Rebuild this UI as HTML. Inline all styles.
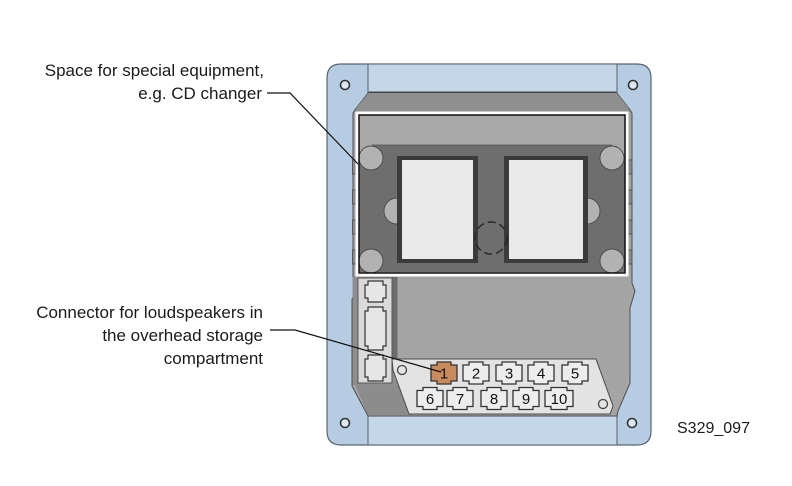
<!DOCTYPE html>
<html>
<head>
<meta charset="utf-8">
<style>
  html,body{margin:0;padding:0;background:#fff;}
  svg{display:block;}
  text{font-family:"Liberation Sans",Arial,sans-serif;}
</style>
</head>
<body>
<svg width="792" height="486" viewBox="0 0 792 486" xmlns="http://www.w3.org/2000/svg">
  <rect width="792" height="486" fill="#ffffff"/>

  <!-- Blue mounting frame -->
  <path d="M341,64 H637 Q651,64 651,78 V431 Q651,445 637,445 H341 Q327,445 327,431 V78 Q327,64 341,64 Z" fill="#b6cce2" stroke="#5a646e" stroke-width="1.2"/>
  <rect x="368" y="64.6" width="249" height="28" fill="#c4d7e9"/>
  <rect x="368" y="415" width="249" height="29.4" fill="#c4d7e9"/>
  <line x1="368" y1="64" x2="368" y2="93" stroke="#56606a" stroke-width="1"/>
  <line x1="617" y1="64" x2="617" y2="93" stroke="#56606a" stroke-width="1"/>
  <line x1="368" y1="415" x2="368" y2="445" stroke="#56606a" stroke-width="1"/>
  <line x1="617" y1="415" x2="617" y2="445" stroke="#56606a" stroke-width="1"/>

  <!-- screws -->
  <circle cx="345" cy="85" r="4.5" fill="#dce7f1" stroke="#333" stroke-width="1.6"/>
  <circle cx="633" cy="85" r="4.5" fill="#dce7f1" stroke="#333" stroke-width="1.6"/>
  <circle cx="345" cy="423" r="4.5" fill="#dce7f1" stroke="#333" stroke-width="1.6"/>
  <circle cx="632" cy="423" r="4.5" fill="#dce7f1" stroke="#333" stroke-width="1.6"/>

  <!-- Gray body -->
  <path d="M369,92 L616,92 L628,107 L632,113 L632,283 L635,291 L630,308 L630,383 L618,411 L617,416 L368,416 L352,386 L352,300 L355,290 L353,283 L353,113 L357,107 Z" fill="#a4a4a4" stroke="#4e4e4e" stroke-width="1"/>
  <path d="M369,92.5 L616,92.5 L628,107 L630,112 L355,112 L357,107 Z" fill="#8f8f8f"/>
  <line x1="369" y1="92.5" x2="616" y2="92.5" stroke="#444" stroke-width="1"/>

  <!-- side tabs on body edges -->
  <g stroke="#555" stroke-width="1" fill="#8a8a8a">
    <rect x="352.5" y="160" width="4" height="14"/>
    <rect x="352.5" y="190" width="4" height="14"/>
    <rect x="352.5" y="220" width="4" height="14"/>
    <rect x="352.5" y="250" width="4" height="14"/>
    <rect x="628" y="160" width="4" height="14"/>
    <rect x="628" y="190" width="4" height="14"/>
    <rect x="628" y="220" width="4" height="14"/>
    <rect x="628" y="250" width="4" height="14"/>
  </g>

  <!-- Highlighted area content -->
  <rect x="359" y="115" width="267" height="158" fill="#a8a8a8"/>
  <!-- dark plate -->
  <rect x="359" y="156" width="267" height="116" fill="#6e6e6e"/>
  <rect x="372" y="145" width="240" height="12" fill="#6e6e6e"/>
  <line x1="359" y1="156" x2="372" y2="156" stroke="#555" stroke-width="1"/>
  <line x1="612" y1="156" x2="626" y2="156" stroke="#555" stroke-width="1"/>
  <line x1="372" y1="145" x2="612" y2="145" stroke="#555" stroke-width="0.8"/>
  <!-- notches -->
  <g fill="#b2b2b2" stroke="#4a4a4a" stroke-width="0.9">
    <circle cx="371" cy="158" r="12"/>
    <circle cx="612" cy="158" r="12"/>
    <circle cx="371" cy="261" r="12"/>
    <circle cx="612" cy="261" r="12"/>
    <circle cx="397" cy="211" r="13"/>
    <circle cx="587" cy="211" r="13"/>
  </g>
  <!-- windows -->
  <rect x="397" y="156" width="81" height="107" fill="#3b3b3b"/>
  <rect x="402" y="160" width="71" height="99" fill="#e9e9e9"/>
  <rect x="504" y="156" width="84" height="107" fill="#3b3b3b"/>
  <rect x="509" y="160" width="74" height="99" fill="#e9e9e9"/>
  <!-- dashed circle -->
  <circle cx="491" cy="238" r="16" fill="none" stroke="#2a2a2a" stroke-width="1.5" stroke-dasharray="8 4"/>

  <!-- highlight box border -->
  <rect x="357" y="113" width="270" height="162" fill="none" stroke="#ffffff" stroke-width="3"/>
  <rect x="359" y="115" width="266" height="158" fill="none" stroke="#111" stroke-width="1.5"/>

  <!-- lower left column -->
  <rect x="352.5" y="277" width="45" height="108" fill="#8e8e8e"/>
  <rect x="392" y="277" width="5.5" height="82" fill="#6c6c6c"/>
  <rect x="358" y="278" width="34" height="105" fill="#dadada" stroke="#555" stroke-width="1"/>
  <path d="M355,385 L405,385 L412,415 L368,415 Z" fill="#8c8c8c"/>
  <g fill="#e6e6e6" stroke="#333" stroke-width="1.2">
    <path d="M368,281 h15 v4 h3 v13 h-3 v4 h-15 v-4 h-3 v-13 h3 z"/>
    <path d="M368,307 h15 v4 h3 v35 h-3 v4 h-15 v-4 h-3 v-35 h3 z"/>
    <path d="M368,355 h15 v4 h3 v18 h-3 v4 h-15 v-4 h-3 v-18 h3 z"/>
  </g>

  <!-- connector panel -->
  <path d="M392,359 L596,359 L613,406 L610,414 L409,414 L393,370 Z" fill="#e3e3e3" stroke="#4a4a4a" stroke-width="1"/>
  <circle cx="402" cy="370" r="4.5" fill="#e3e3e3" stroke="#444" stroke-width="1.3"/>
  <circle cx="603" cy="404" r="4.5" fill="#e3e3e3" stroke="#444" stroke-width="1.3"/>

  <g stroke="#333" stroke-width="1.3" fill="#ededed">
    <path d="M437,362 h14 v3 h6 v16 h-6 v3 h-14 v-3 h-6 v-16 h6 z" fill="#c98a5e"/>
    <path d="M469,362 h14 v3 h6 v16 h-6 v3 h-14 v-3 h-6 v-16 h6 z"/>
    <path d="M502,362 h14 v3 h6 v16 h-6 v3 h-14 v-3 h-6 v-16 h6 z"/>
    <path d="M534,362 h14 v3 h6 v16 h-6 v3 h-14 v-3 h-6 v-16 h6 z"/>
    <path d="M568,362 h14 v3 h6 v16 h-6 v3 h-14 v-3 h-6 v-16 h6 z"/>
    <path d="M423,387.5 h14 v3 h6 v16 h-6 v3 h-14 v-3 h-6 v-16 h6 z"/>
    <path d="M453,387.5 h14 v3 h6 v16 h-6 v3 h-14 v-3 h-6 v-16 h6 z"/>
    <path d="M487,387.5 h14 v3 h6 v16 h-6 v3 h-14 v-3 h-6 v-16 h6 z"/>
    <path d="M519,387.5 h14 v3 h6 v16 h-6 v3 h-14 v-3 h-6 v-16 h6 z"/>
    <path d="M551,387.5 h16 v3 h6 v16 h-6 v3 h-16 v-3 h-6 v-16 h6 z"/>
  </g>
  <g font-size="15" fill="#111" text-anchor="middle">
    <text x="444" y="378.5">1</text>
    <text x="476" y="378.5">2</text>
    <text x="509" y="378.5">3</text>
    <text x="541" y="378.5">4</text>
    <text x="575" y="378.5">5</text>
    <text x="430" y="404">6</text>
    <text x="460" y="404">7</text>
    <text x="494" y="404">8</text>
    <text x="526" y="404">9</text>
    <text x="559" y="404">10</text>
  </g>

  <!-- leader lines -->
  <polyline points="267,93 290,93 358,164" fill="none" stroke="#111" stroke-width="1.2"/>
  <polyline points="270,330 295,330 441,372" fill="none" stroke="#111" stroke-width="1.2"/>

  <!-- labels -->
  <g font-size="17" fill="#1a1a1a" text-anchor="end">
    <text x="264" y="76">Space for special equipment,</text>
    <text x="262" y="99">e.g. CD changer</text>
    <text x="263" y="318">Connector for loudspeakers in</text>
    <text x="263" y="341">the overhead storage</text>
    <text x="263" y="364">compartment</text>
  </g>
  <text x="677" y="433" font-size="16" fill="#1a1a1a">S329_097</text>
</svg>
</body>
</html>
